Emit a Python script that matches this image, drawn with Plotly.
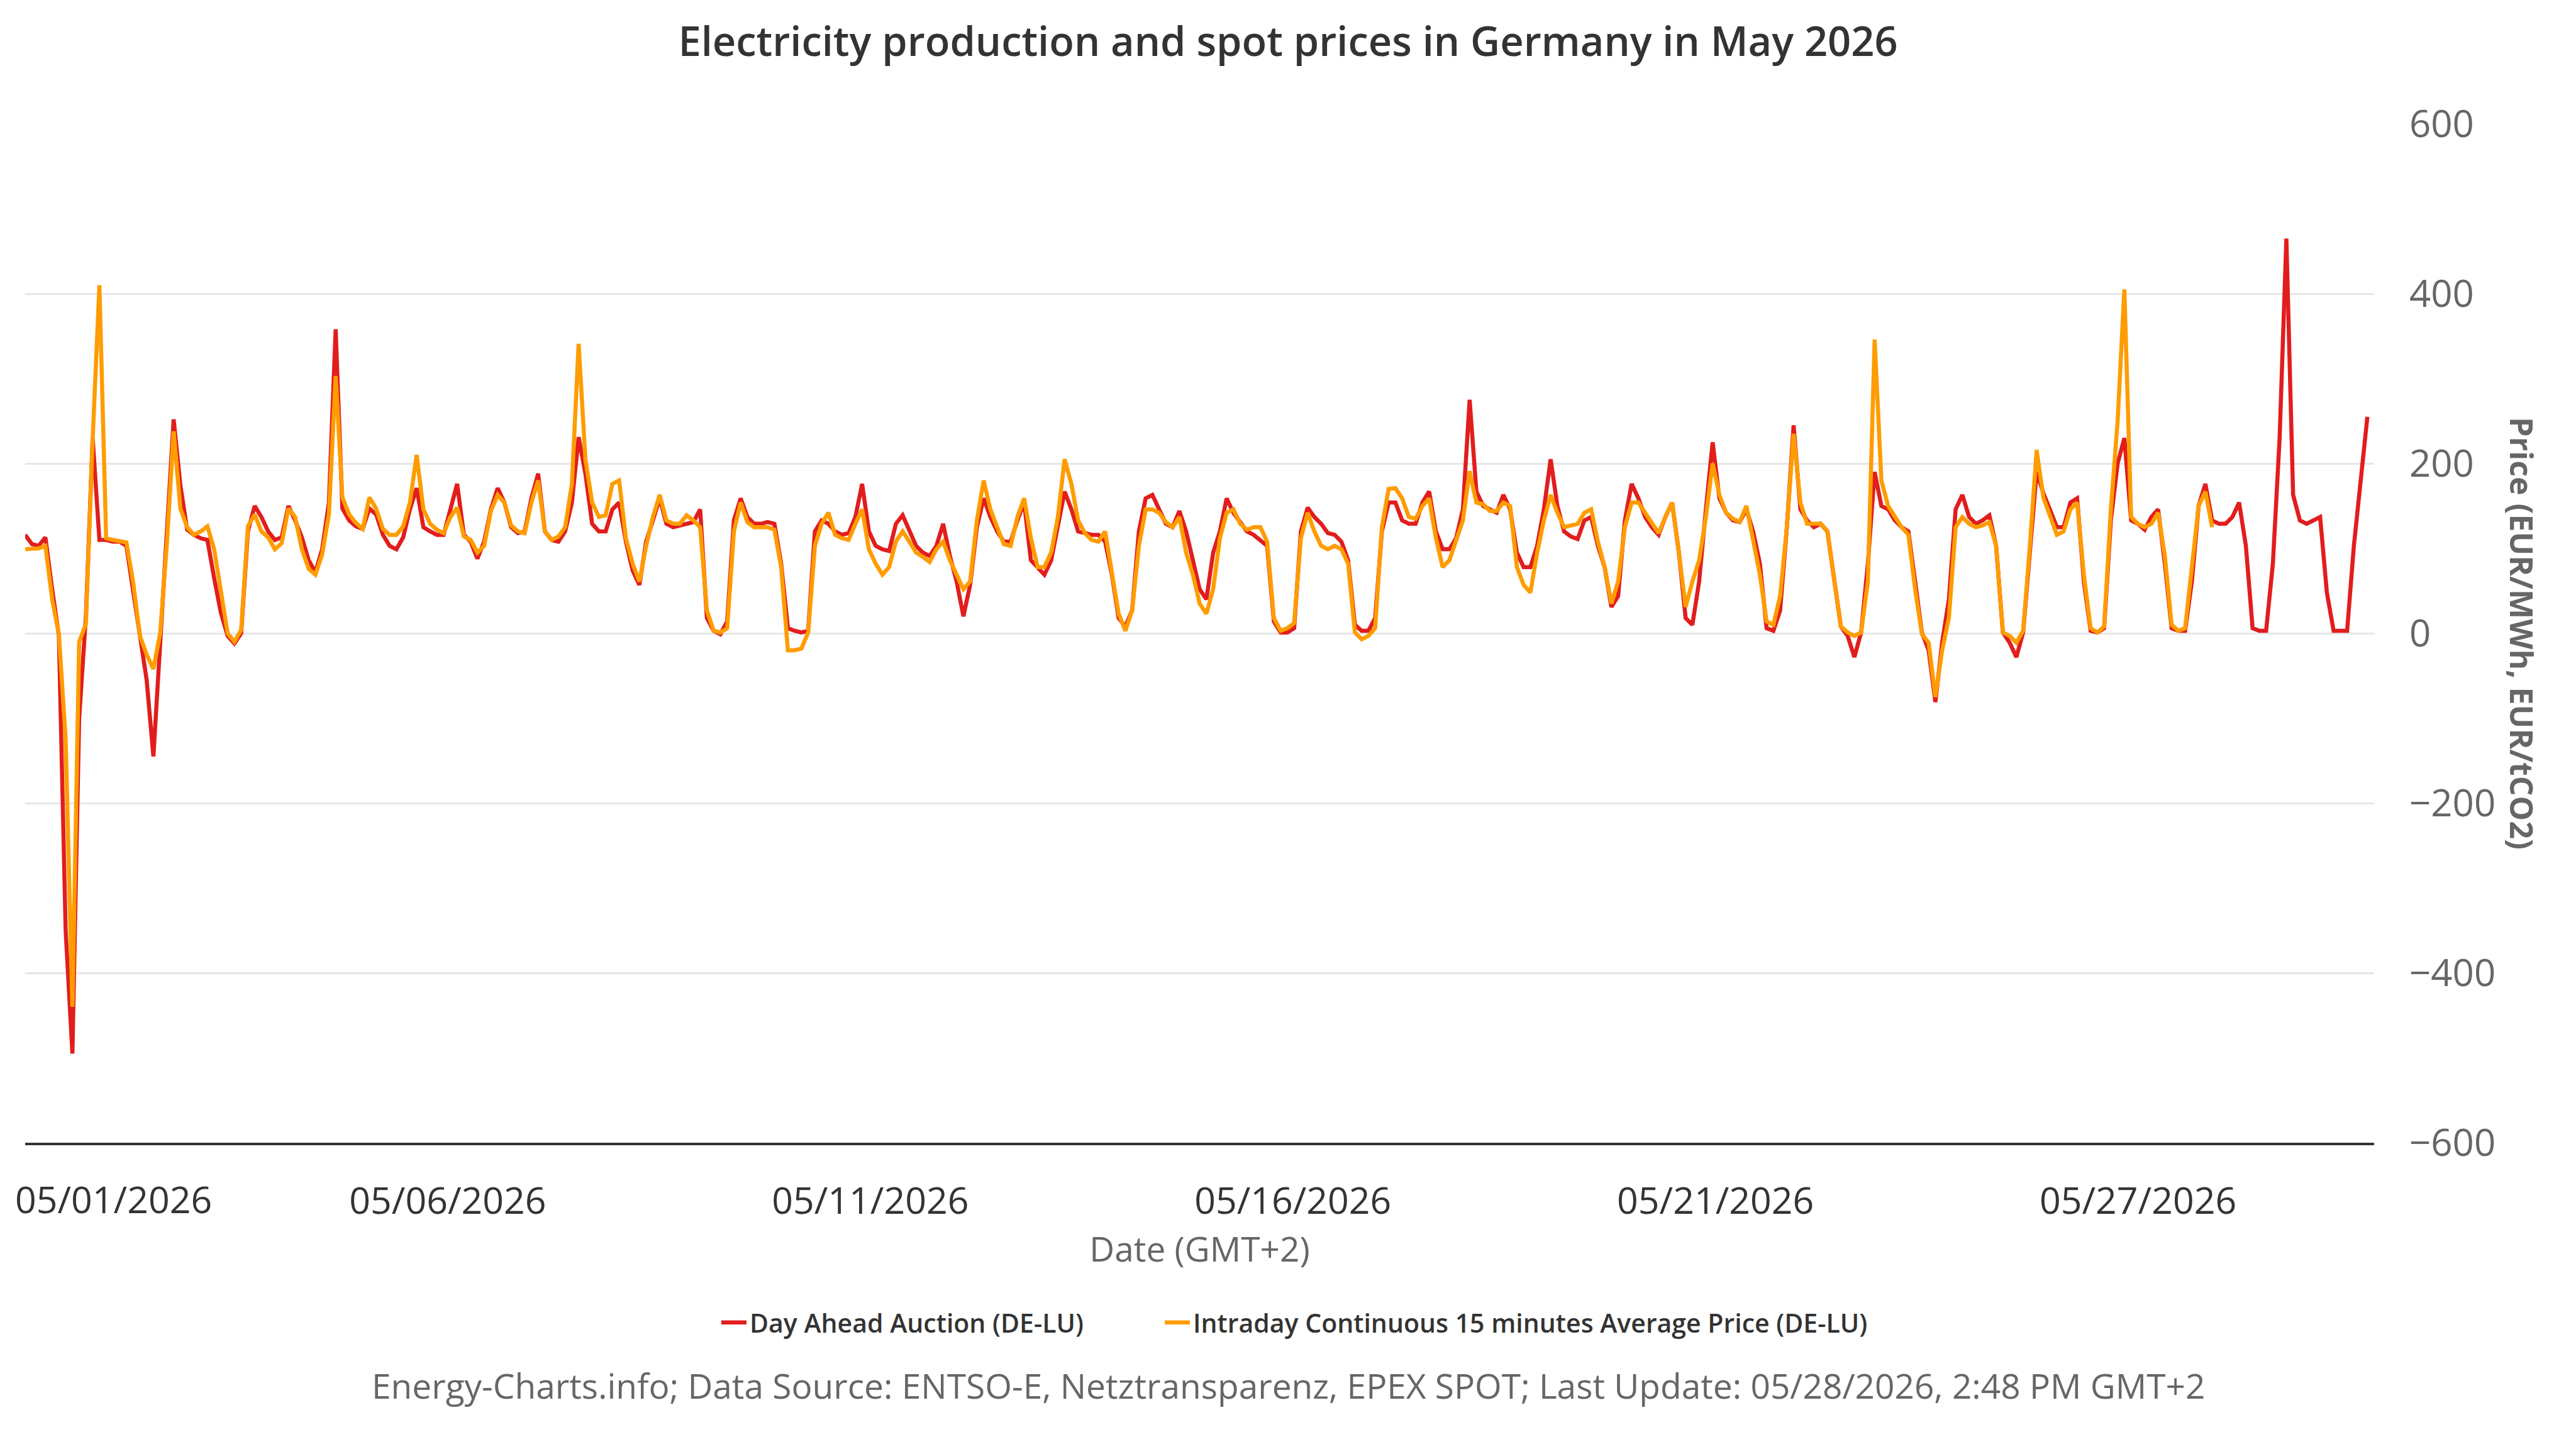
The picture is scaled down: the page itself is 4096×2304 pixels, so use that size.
import datetime as dt
import plotly.graph_objects as go

# ---------------- data (2-hourly values, EUR/MWh) ----------------
start = dt.datetime(2026, 5, 1, 0, 0)
step_hours = 2

day_ahead = [
    116, 105, 103, 113, 52, -3, -350, -495, -100, 20, 230, 110,   # 05/01
    110, 108, 108, 103, 50, 0, -55, -145, -3, 120, 252, 174,      # 05/02
    122, 116, 112, 110, 65, 24, -3, -12, 0, 120, 150, 137,        # 05/03
    120, 110, 113, 150, 133, 113, 86, 72, 99, 154, 358, 147,      # 05/04
    133, 126, 123, 147, 140, 116, 103, 99, 113, 146, 171, 125,    # 05/05
    120, 116, 116, 146, 176, 116, 108, 88, 108, 146, 171, 154,    # 05/06
    125, 118, 120, 159, 188, 120, 110, 108, 120, 154, 231, 188,   # 05/07
    129, 120, 120, 146, 154, 108, 74, 57, 108, 133, 159, 129,     # 05/08
    125, 127, 129, 131, 146, 18, 3, -1, 14, 133, 159, 137,        # 05/09
    129, 129, 131, 129, 82, 6, 3, 1, 3, 120, 133, 129,            # 05/10
    120, 116, 118, 137, 176, 120, 103, 99, 97, 129, 139, 120,     # 05/11
    103, 95, 91, 103, 129, 91, 61, 20, 57, 125, 159, 137,         # 05/12
    120, 108, 108, 133, 154, 86, 78, 69, 86, 129, 167, 146,       # 05/13
    120, 118, 116, 116, 108, 69, 18, 8, 27, 120, 159, 163,        # 05/14
    146, 129, 125, 144, 120, 86, 52, 40, 95, 120, 159, 142,       # 05/15
    131, 120, 116, 110, 103, 14, 1, 1, 6, 120, 148, 137,          # 05/16
    129, 118, 116, 108, 86, 10, 3, 3, 18, 120, 154, 154,          # 05/17
    133, 129, 129, 154, 167, 120, 99, 99, 112, 146, 275, 167,     # 05/18
    150, 146, 142, 163, 146, 95, 78, 78, 103, 146, 205, 150,      # 05/19
    120, 114, 111, 133, 137, 103, 78, 31, 44, 133, 176, 159,      # 05/20
    137, 125, 116, 137, 154, 95, 18, 10, 61, 146, 225, 159,       # 05/21
    142, 133, 131, 146, 120, 82, 6, 3, 27, 125, 245, 146,         # 05/22
    133, 125, 129, 120, 61, 8, -3, -28, 1, 82, 190, 150,          # 05/23
    146, 133, 125, 120, 61, 1, -20, -81, -11, 40, 146, 163,       # 05/24
    137, 129, 133, 139, 103, 1, -11, -28, 1, 103, 190, 165,       # 05/25
    146, 125, 125, 154, 159, 61, 3, 1, 6, 133, 200, 230,          # 05/26
    133, 129, 122, 137, 146, 82, 6, 3, 3, 61, 150, 176,           # 05/27
    133, 129, 129, 137, 154, 103, 6, 3, 3, 82, 230, 465,          # 05/28
    163, 133, 129, 133, 137, 48, 3, 3, 3, 103, 175, 255,          # 05/29
]

intraday = [
    99, 99, 100, 103, 40, -1, -125, -440, -10, 11, 229, 410,      # 05/01
    112, 110, 108, 107, 60, -3, -25, -42, 0, 106, 238, 147,       # 05/02
    125, 116, 120, 126, 99, 52, 0, -10, 4, 126, 140, 120,         # 05/03
    113, 99, 106, 147, 137, 99, 76, 69, 93, 140, 303, 160,        # 05/04
    140, 130, 123, 160, 147, 123, 116, 116, 126, 154, 210, 146,   # 05/05
    129, 122, 118, 137, 148, 114, 110, 95, 103, 144, 163, 154,    # 05/06
    127, 120, 118, 154, 180, 120, 110, 114, 125, 176, 341, 205,   # 05/07
    154, 137, 139, 176, 180, 112, 82, 61, 103, 137, 163, 133,     # 05/08
    129, 129, 139, 133, 125, 27, 3, 1, 6, 120, 154, 131,          # 05/09
    125, 125, 125, 122, 78, -20, -20, -18, 1, 103, 129, 142,      # 05/10
    116, 112, 110, 129, 146, 99, 82, 69, 78, 108, 120, 108,       # 05/11
    95, 90, 84, 99, 108, 86, 69, 52, 61, 133, 180, 146,           # 05/12
    125, 105, 103, 137, 159, 112, 78, 78, 95, 137, 205, 176,      # 05/13
    133, 118, 110, 108, 120, 74, 23, 3, 27, 103, 146, 146,        # 05/14
    142, 131, 125, 137, 95, 69, 35, 23, 52, 112, 142, 146,        # 05/15
    129, 122, 125, 125, 108, 18, 3, 6, 12, 112, 142, 120,         # 05/16
    103, 99, 103, 99, 82, 1, -7, -3, 6, 125, 170, 171,            # 05/17
    159, 137, 135, 150, 159, 112, 78, 86, 108, 133, 191, 154,     # 05/18
    152, 144, 144, 154, 150, 78, 57, 48, 95, 133, 163, 142,       # 05/19
    125, 127, 129, 142, 146, 108, 78, 35, 61, 125, 154, 154,      # 05/20
    142, 129, 118, 137, 154, 95, 31, 61, 86, 137, 200, 163,       # 05/21
    142, 135, 131, 150, 112, 69, 14, 10, 44, 125, 235, 154,       # 05/22
    129, 129, 129, 120, 61, 8, 1, -3, 1, 61, 346, 180,            # 05/23
    150, 137, 125, 116, 52, -1, -11, -75, -20, 18, 125, 137,      # 05/24
    129, 125, 127, 131, 103, 1, -3, -11, 3, 103, 216, 160,        # 05/25
    137, 116, 120, 146, 154, 69, 6, 1, 8, 146, 250, 405,          # 05/26
    137, 129, 125, 129, 142, 91, 10, 3, 6, 82, 150, 167,          # 05/27
    125,                                                          # 05/28
]

tick_labels = ["05/01/2026", "05/06/2026", "05/11/2026", "05/16/2026", "05/21/2026", "05/27/2026"]
tick_step_days = 5.217
y_ticks = [-600, -400, -200, 0, 200, 400, 600]

series_names = ["Day Ahead Auction (DE-LU)", "Intraday Continuous 15 minutes Average Price (DE-LU)"]
title_text = "Electricity production and spot prices in Germany in May 2026"
credits_text = ("Energy-Charts.info; Data Source: ENTSO-E, Netztransparenz, EPEX SPOT; "
                "Last Update: 05/28/2026, 2:48 PM GMT+2")

# ---------------- build ----------------
t_red = [start + dt.timedelta(hours=step_hours * i) for i in range(len(day_ahead))]
t_intra = [start + dt.timedelta(hours=step_hours * i) for i in range(len(intraday))]
tick_vals = [start + dt.timedelta(days=tick_step_days * k) for k in range(1, len(tick_labels))]

FONT = "Open Sans"
RED = "#e21d1d"
ORANGE = "#ff9c00"

fig = go.Figure()
fig.add_trace(go.Scatter(x=t_red, y=day_ahead, mode="lines", name=series_names[0],
                         line=dict(color=RED, width=6.5), legendwidth=650))
fig.add_trace(go.Scatter(x=t_intra, y=intraday, mode="lines", name=series_names[1],
                         line=dict(color=ORANGE, width=6.5)))

W, H = 4096, 2304
ML, MR, MT, MB = 40, 321, 197, 487
PW, PH = W - ML - MR, H - MT - MB

fig.update_layout(
    width=W, height=H,
    margin=dict(l=ML, r=MR, t=MT, b=MB, autoexpand=False),
    paper_bgcolor="white", plot_bgcolor="white",
    font=dict(family=FONT, color="#333333"),
    title=dict(text=title_text, x=0.5, xref="container", xanchor="center",
               y=1 - 66 / H, yref="container", yanchor="middle",
               font=dict(family=FONT, size=65, color="#333333", weight=600)),
    showlegend=True,
    legend=dict(orientation="h", x=1142 / W, xref="container", xanchor="left",
                y=1 - 2103 / H, yref="container", yanchor="middle",
                font=dict(family=FONT, size=41, color="#333333", weight=600),
                itemwidth=40, bgcolor="rgba(0,0,0,0)"),
    xaxis=dict(
        type="date",
        range=[start, start + dt.timedelta(days=29)],
        tickmode="array", tickvals=tick_vals, ticktext=tick_labels[1:],
        tickfont=dict(family=FONT, size=59, color="#333333"),
        ticks="", ticklabelstandoff=38,
        showgrid=False, zeroline=False,
        showline=True, linecolor="#333333", linewidth=4,
        title=dict(text="Date (GMT+2)", font=dict(family=FONT, size=55, color="#666666"), standoff=22),
        automargin=False,
    ),
    yaxis=dict(
        side="right",
        range=[-600, 600],
        tickmode="array", tickvals=y_ticks,
        tickfont=dict(family=FONT, size=60, color="#666666"),
        ticks="", ticklabelstandoff=55,
        showgrid=True, gridcolor="#e6e6e6", gridwidth=3,
        zeroline=False, showline=False,
        automargin=False,
    ),
)

annotations = [
    # first date label (kept inside the page like the original)
    dict(text=tick_labels[0], xref="paper", yref="paper",
         x=(22 - ML) / PW, xanchor="left", y=(MT + PH - 1906) / PH, yanchor="middle",
         showarrow=False, font=dict(family=FONT, size=59, color="#333333")),
    # y-axis title (reads top to bottom)
    dict(text="Price (EUR/MWh, EUR/tCO2)", xref="paper", yref="paper",
         x=(4010 - ML) / PW, xanchor="center", y=0.5, yanchor="middle", textangle=90,
         showarrow=False, font=dict(family=FONT, size=50, color="#666666", weight=700)),
    # credits
    dict(text=credits_text, xref="paper", yref="paper",
         x=(2048 - ML) / PW, xanchor="center", y=(MT + PH - 2202) / PH, yanchor="middle",
         showarrow=False, font=dict(family=FONT, size=55, color="#666666")),
]
fig.update_layout(annotations=annotations)

fig.write_html("out.html")
